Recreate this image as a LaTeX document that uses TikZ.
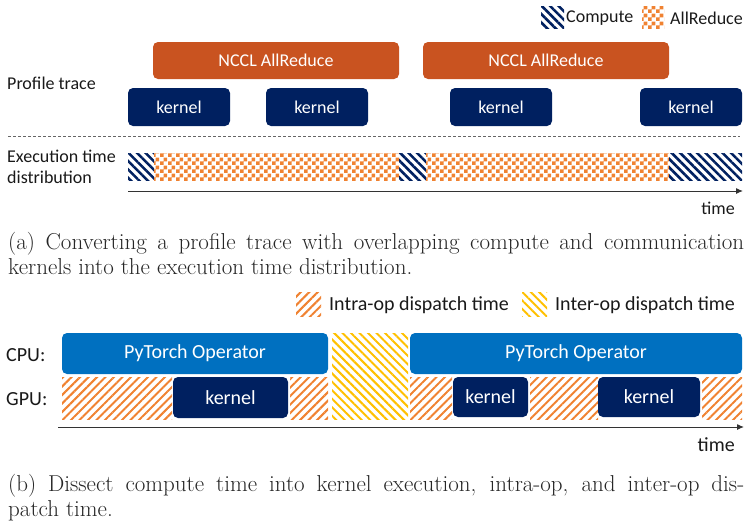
\documentclass[tikz,border=0pt]{standalone}
\usepackage{fontspec}
\newfontfamily\diagfont{Carlito}
\usetikzlibrary{arrows.meta,patterns,patterns.meta,positioning}
\definecolor{navy}{HTML}{002060}
\definecolor{ncclorange}{HTML}{C95320}
\definecolor{chkorange}{HTML}{F08231}
\definecolor{opblue}{HTML}{0070C0}
\definecolor{interyellow}{HTML}{FFC000}
\pgfdeclarepatternformonly{checker}{\pgfpointorigin}{\pgfqpoint{8pt}{8pt}}{\pgfqpoint{8pt}{8pt}}{%
\pgfpathrectangle{\pgfpointorigin}{\pgfqpoint{4pt}{4pt}}%
\pgfpathrectangle{\pgfqpoint{4pt}{4pt}}{\pgfqpoint{4pt}{4pt}}%
\pgfusepath{fill}}
\begin{document}
\begin{tikzpicture}[x=1pt,y=-1pt,
  lbl/.style={font=\diagfont\fontsize{18}{21}\selectfont,text=black!90,inner sep=0pt},
  lblb/.style={font=\diagfont\fontsize{20}{23}\selectfont,text=black!90,inner sep=0pt},
  kernelbox/.style={fill=navy,rounded corners=5pt,text=white,inner sep=0pt},
  ncclbox/.style={fill=ncclorange,rounded corners=5pt,text=white,inner sep=0pt,
    minimum width=246pt,minimum height=37pt},
  opbox/.style={fill=opblue,rounded corners=5pt,text=white,inner sep=0pt,minimum height=41pt},
  compute/.style={pattern={Lines[angle=-45,distance=6pt,line width=2.6pt]},pattern color=navy},
  allreduce/.style={pattern=checker,pattern color=chkorange},
  intraop/.style={pattern={Lines[angle=45,distance=6pt,line width=2pt]},pattern color=chkorange},
  interop/.style={pattern={Lines[angle=-45,distance=6pt,line width=2pt]},pattern color=interyellow},
  caption/.style={anchor=north west,inner sep=0pt,text width=736pt,align=justify,
    font=\fontsize{23}{25}\selectfont,text=black!85}]
\useasboundingbox (0,0) rectangle (744,525);
% (a) profile trace
\path[compute] (541,6) rectangle (564,28);
\node[lbl,anchor=west] (lc) at (566,18) {Compute};
\path[allreduce] (642,6) rectangle (664,28);
\node[lbl,anchor=west] (la) at (670,18) {AllReduce};
\node[ncclbox,lbl,text=white] (n1) at (276,60.5) {NCCL AllReduce};
\node[ncclbox,lbl,text=white] (n2) at (546,60.5) {NCCL AllReduce};
\foreach \x/\n in {179/1,317/2,501/3,691/4}
  \node[kernelbox,lbl,text=white,minimum width=102pt,minimum height=38pt] (k\n) at (\x,107) {kernel};
\node[lbl,anchor=west] (pt) at (7,83) {Profile trace};
\draw[black!60,dash pattern=on 3pt off 2pt] (8,136) -- (740,136);
\node[lbl,anchor=west,align=left] (ed) at (7,167) {Execution time\\distribution};
\path[compute] (128,153) rectangle (154,180);
\path[allreduce] (154,153) rectangle (399,180);
\path[compute] (399,153) rectangle (426,180);
\path[allreduce] (426,153) rectangle (669,180);
\path[compute] (669,153) rectangle (742,180);
\coordinate (ta0) at (128,191);
\coordinate (ta1) at (743,191);
\draw[black!80,line width=1pt,-{Latex[length=7pt,width=6pt]}] (ta0) -- (ta1);
\node[lbl,anchor=east] (ta) at (735,208) {time};
\node[caption] (ca) at (8,232) {(a) Converting a profile trace with overlapping compute and communication\linebreak
kernels into the execution time distribution.};
% (b) dispatch time
\path[intraop] (296,292) rectangle (321,316);
\node[lblb,anchor=west] (li) at (329,305) {Intra-op dispatch time};
\path[interop] (522,292) rectangle (547,316);
\node[lblb,anchor=west] (le) at (555,305) {Inter-op dispatch time};
\node[lblb,anchor=west] (cpu) at (6,355) {CPU:};
\node[lblb,anchor=west] (gpu) at (6,399) {GPU:};
\node[opbox,lblb,text=white,minimum width=266pt] (op1) at (195,353.5) {PyTorch Operator};
\node[opbox,lblb,text=white,minimum width=332pt] (op2) at (576,353.5) {PyTorch Operator};
\foreach \a/\b in {62/172,290/328,410/452,530/598,702/742}
  \path[intraop] (\a,377) rectangle (\b,419);
\path[interop] (332,333) rectangle (408,419);
\node[kernelbox,lblb,text=white,minimum width=115pt,minimum height=41pt] (g1) at (230.5,397.5) {kernel};
\node[kernelbox,lblb,text=white,minimum width=75pt,minimum height=40pt] (g2) at (490.5,397) {kernel};
\node[kernelbox,lblb,text=white,minimum width=102pt,minimum height=40pt] (g3) at (649,397) {kernel};
\coordinate (tb0) at (58,427);
\coordinate (tb1) at (744,427);
\draw[black!80,line width=1pt,-{Latex[length=7pt,width=6pt]}] (tb0) -- (tb1);
\node[lblb,anchor=east] (tb) at (735,445) {time};
\node[caption] (cb) at (8,474) {(b) Dissect compute time into kernel execution, intra-op, and inter-op dis-\linebreak
patch time.};
\end{tikzpicture}
\end{document}
